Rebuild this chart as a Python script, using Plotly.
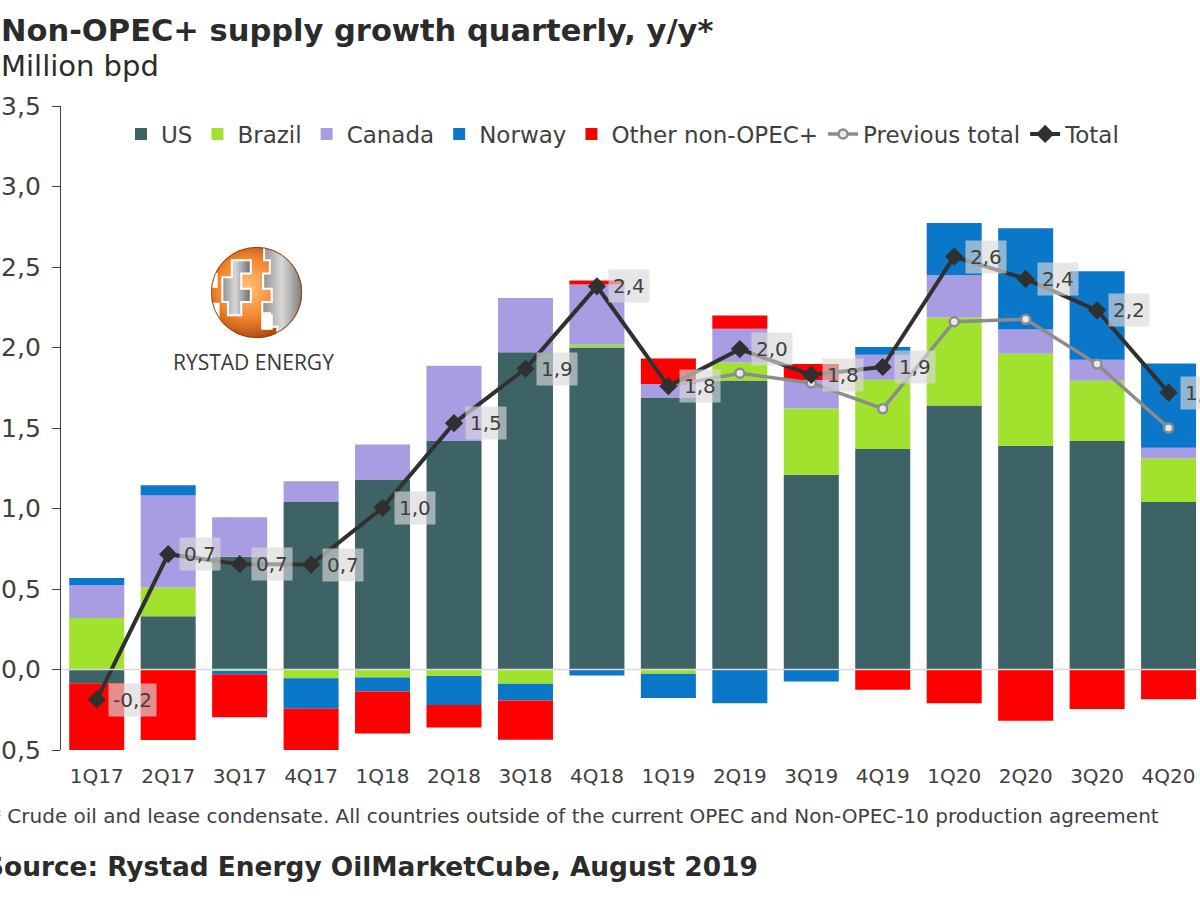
import base64
import plotly.graph_objects as go

# ---------------- data ----------------
QUARTERS = ["1Q17", "2Q17", "3Q17", "4Q17", "1Q18", "2Q18", "3Q18", "4Q18",
            "1Q19", "2Q19", "3Q19", "4Q19", "1Q20", "2Q20", "3Q20", "4Q20"]
US = [-0.085, 0.33, 0.70, 1.04, 1.18, 1.42, 1.97, 2.00,
      1.69, 1.795, 1.21, 1.37, 1.64, 1.39, 1.42, 1.04]
BRAZIL = [0.32, 0.18, -0.01, -0.054, -0.05, -0.04, -0.089, 0.017,
          -0.027, 0.112, 0.411, 0.43, 0.547, 0.571, 0.373, 0.27]
CANADA = [0.204, 0.571, 0.245, 0.13, 0.218, 0.467, 0.338, 0.374,
          0.084, 0.21, 0.177, 0.155, 0.262, 0.151, 0.131, 0.068]
NORWAY = [0.045, 0.063, -0.02, -0.19, -0.087, -0.18, -0.104, -0.037,
          -0.15, -0.21, -0.075, 0.048, 0.324, 0.629, 0.55, 0.523]
OTHER = [-0.66, -0.438, -0.267, -0.272, -0.26, -0.14, -0.243, 0.025,
         0.157, 0.081, 0.099, -0.125, -0.21, -0.318, -0.245, -0.185]
TOTAL = [-0.187, 0.716, 0.654, 0.652, 1.004, 1.53, 1.868, 2.38,
         1.76, 1.99, 1.83, 1.879, 2.565, 2.426, 2.231, 1.72]
PREVIOUS = [-0.187, 0.716, 0.654, 0.652, 1.004, 1.53, 1.868, 2.38,
            1.76, 1.84, 1.78, 1.62, 2.16, 2.175, 1.897, 1.50]
Y_TICKS = [-0.5, 0.0, 0.5, 1.0, 1.5, 2.0, 2.5, 3.0, 3.5]

TITLE = "Non-OPEC+ supply growth quarterly, y/y*"
SUBTITLE = "Million bpd"
FOOTNOTE = "* Crude oil and lease condensate. All countries outside of the current OPEC and Non-OPEC-10 production agreement"
SOURCE = "Source: Rystad Energy OilMarketCube, August 2019"

# ---------------- layout geometry ----------------
W, H = 1200, 900
L, R, T, B = 61, 0, 106, 150
PW, PH = W - L - R, H - T - B


def fx(px):
    return (px - L) / PW


def fy(py):
    return (H - B - py) / PH


FONT = "DejaVu Sans"
TXT = "#404040"

fig = go.Figure()
bar_series = [("US", US, "#3d6366"), ("Brazil", BRAZIL, "#a0e22e"),
              ("Canada", CANADA, "#a89de2"), ("Norway", NORWAY, "#0a77c9"),
              ("Other non-OPEC+", OTHER, "#ff0000")]
for name, vals, col in bar_series:
    fig.add_trace(go.Bar(x=QUARTERS, y=vals, name=name,
                         marker=dict(color=col, line=dict(width=0))))

fig.add_trace(go.Scatter(x=QUARTERS, y=PREVIOUS, name="Previous total", mode="lines+markers",
                         line=dict(color="#8c8c8c", width=3.5),
                         marker=dict(symbol="circle", size=9, color="#e8e8e8",
                                     line=dict(color="#8c8c8c", width=2.5))))
fig.add_trace(go.Scatter(x=QUARTERS, y=TOTAL, name="Total", mode="lines+markers",
                         line=dict(color="#303030", width=4),
                         marker=dict(symbol="diamond", size=14, color="#303030")))

annotations = []
for q, v in zip(QUARTERS, TOTAL):
    annotations.append(dict(x=q, y=v, xref="x", yref="y", text=f"{v:.1f}".replace(".", ","),
                            showarrow=False, xanchor="left", yanchor="middle", xshift=11,
                            bgcolor="rgba(217,217,217,0.65)", borderpad=4,
                            font=dict(family=FONT, size=20, color=TXT)))

annotations += [
    dict(x=fx(-1), y=fy(30), xref="paper", yref="paper", text=f"<b>{TITLE}</b>", showarrow=False,
         xanchor="left", yanchor="middle", font=dict(family=FONT, size=30.5, color="#2b2b2b")),
    dict(x=fx(-1), y=fy(66), xref="paper", yref="paper", text=SUBTITLE, showarrow=False,
         xanchor="left", yanchor="middle", font=dict(family=FONT, size=29, color="#2b2b2b")),
    dict(x=fx(-11), y=fy(816), xref="paper", yref="paper", text=FOOTNOTE, showarrow=False,
         xanchor="left", yanchor="middle", font=dict(family=FONT, size=20, color=TXT)),
    dict(x=fx(-17), y=fy(866), xref="paper", yref="paper", text=f"<b>{SOURCE}</b>", showarrow=False,
         xanchor="left", yanchor="middle", font=dict(family=FONT, size=26.4, color="#2b2b2b")),
    dict(x=fx(254), y=fy(362), xref="paper", yref="paper", text="RYSTAD ENERGY", showarrow=False,
         xanchor="center", yanchor="middle", font=dict(family="Open Sans", size=21, color="#3a3a3a")),
]

logo_svg = '''<svg xmlns="http://www.w3.org/2000/svg" viewBox="0 0 100 100">
<defs>
<radialGradient id="o" cx="40%" cy="45%" r="60%"><stop offset="0" stop-color="#FFC47C"/><stop offset="0.55" stop-color="#F2862E"/><stop offset="1" stop-color="#A5420C"/></radialGradient>
<linearGradient id="g" x1="0" y1="0" x2="1" y2="0"><stop offset="0" stop-color="#8f8f8f"/><stop offset="0.45" stop-color="#d8d8d8"/><stop offset="1" stop-color="#6a6a6a"/></linearGradient>
<clipPath id="c"><circle cx="50" cy="50" r="48"/></clipPath>
</defs>
<circle cx="50" cy="50" r="48" fill="url(#o)"/>
<g clip-path="url(#c)" stroke="#ffffff" stroke-width="2.2">
<path d="M58 -2 H102 V102 H72 V86 H64 V72 H56 V60 H66 V46 H57 V30 H64 V16 H58 Z" fill="url(#g)"/>
<path d="M24 16 H44 V30 H34 V46 H44 V60 H34 V74 H20 V60 H14 V34 H24 Z" fill="url(#g)"/>
<path d="M-2 30 H8 V44 H2 V62 H10 V76 H-2 Z" fill="#ffffff"/>
<path d="M56 74 H66 V88 H56 Z" fill="#ffffff"/>
</g>
<circle cx="50" cy="50" r="47.5" fill="none" stroke="#9a3c0a" stroke-width="1"/>
</svg>'''
logo_uri = "data:image/svg+xml;base64," + base64.b64encode(logo_svg.encode()).decode()

fig.update_layout(
    width=W, height=H,
    margin=dict(l=L, r=R, t=T, b=B, pad=0, autoexpand=False),
    paper_bgcolor="white", plot_bgcolor="white",
    barmode="relative", bargap=0.23,
    separators=",.",
    font=dict(family=FONT, color=TXT),
    showlegend=True,
    legend=dict(orientation="h", x=fx(121), xanchor="left", y=fy(134), yanchor="middle",
                traceorder="normal", font=dict(family=FONT, size=23, color=TXT),
                bgcolor="rgba(0,0,0,0)", itemwidth=30, tracegroupgap=0),
    xaxis=dict(type="category", range=[-0.5, 15.44], showgrid=False, showline=False,
               automargin=False, ticks="", ticklabelstandoff=12,
               tickfont=dict(family=FONT, size=20, color=TXT), zeroline=False),
    yaxis=dict(range=[-0.5, 3.5], tickmode="array", tickvals=Y_TICKS, tickformat=".1f",
               automargin=False, ticklabelstandoff=6,
               showgrid=False, zeroline=False, showline=True, linecolor=TXT, linewidth=1.3,
               ticks="outside", ticklen=8, tickcolor=TXT, tickwidth=1.3,
               tickfont=dict(family=FONT, size=25, color=TXT)),
    annotations=annotations,
    shapes=[dict(type="line", xref="paper", yref="y", x0=0, x1=1, y0=0, y1=0,
                 line=dict(color="#d9d9d9", width=1.5), layer="above")],
    images=[dict(source=logo_uri, xref="paper", yref="paper", x=fx(209), y=fy(245),
                 sizex=95 / PW, sizey=95 / PH, sizing="stretch", xanchor="left", yanchor="top",
                 layer="above")],
)

fig.write_html("out.html", config={"displayModeBar": False},
               post_script="document.body.style.margin='0';document.body.style.overflow='hidden';")
